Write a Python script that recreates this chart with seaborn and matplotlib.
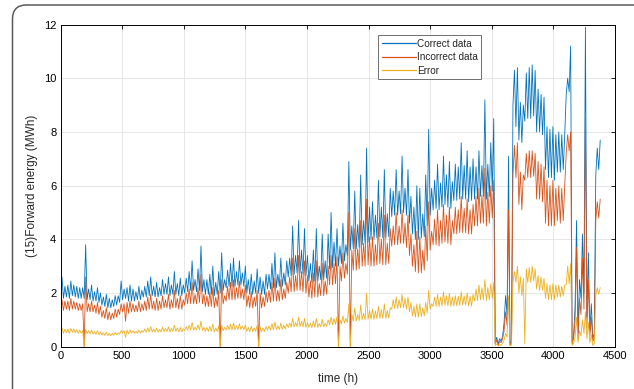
import numpy as np
import pandas as pd
import matplotlib
matplotlib.use("Agg")
import matplotlib.pyplot as plt
from matplotlib.patches import FancyBboxPatch
import seaborn as sns

# Each day: a night trough reading (at 24*d h) and a daytime peak reading (at 24*d+12 h)
day_start_hours = np.arange(0, 4369, 24)
peak_offset_hours = 12

correct_high = [
    2.6, 2.25, 2.3, 2.45, 2.3, 2.25, 2.2,
    2.2, 3.8, 2.15, 2.3, 2.05, 2.2, 2.0,
    1.85, 1.95, 1.8, 1.75, 1.9, 1.9, 2.45,
    2.15, 2.2, 2.3, 2.15, 2.05, 2.25, 2.1,
    2.25, 2.45, 2.6, 2.25, 2.4, 2.2, 2.5,
    2.35, 2.6, 2.3, 2.8, 2.35, 2.55, 2.3,
    2.55, 2.8, 3.2, 2.5, 2.9, 3.75, 2.5,
    2.5, 2.7, 3.0, 2.4, 2.8, 3.5, 2.5,
    2.85, 3.1, 3.3, 2.8, 3.2, 2.75, 3.0,
    2.5, 2.7, 2.45, 2.9, 2.6, 2.45, 2.7,
    2.7, 3.1, 3.5, 2.7, 3.3, 2.75, 3.2,
    3.3, 4.5, 3.4, 4.7, 3.6, 4.4, 3.4,
    3.1, 3.6, 4.4, 3.0, 4.2, 3.2, 4.2,
    5.0, 3.9, 4.4, 3.75, 4.6, 3.8, 6.9,
    4.5, 5.8, 4.55, 6.4, 4.7, 7.4, 5.2,
    5.4, 4.9, 6.2, 5.2, 6.6, 4.95, 5.9,
    5.8, 6.6, 5.8, 7.1, 5.9, 6.6, 5.6,
    5.2, 6.0, 5.9, 4.95, 6.4, 8.1, 5.9,
    6.2, 6.8, 6.1, 7.1, 6.4, 6.9, 6.15,
    6.8, 6.7, 7.6, 6.75, 7.3, 6.7, 7.0,
    6.7, 7.3, 6.75, 9.2, 6.8, 7.6, 8.5,
    0.35, 0.3, 0.4, 1.9, 7.1, 0.25, 10.3,
    10.4, 9.1, 9.0, 10.2, 10.4, 10.5, 10.3,
    9.6, 9.4, 9.3, 8.2, 8.1, 8.2, 7.9,
    8.0, 7.9, 7.9, 10.0, 11.2,
    0.4, 4.7, 2.5, 4.2, 11.9, 3.5, 1.6, 0.5, 7.4, 7.7,
]
correct_low = [
    1.85, 1.8, 1.85, 1.8, 1.9, 1.85, 1.8,
    1.8, 1.8, 1.75, 1.75, 1.7, 1.7, 1.65,
    1.55, 1.5, 1.45, 1.45, 1.5, 1.55, 1.65,
    1.75, 1.8, 1.7, 1.7, 1.7, 1.75, 1.75,
    1.85, 1.85, 1.9, 1.9, 1.85, 1.85, 1.9,
    1.95, 1.95, 1.9, 1.95, 1.95, 1.9, 1.9,
    2.0, 2.05, 2.1, 2.1, 2.05, 2.1, 2.05,
    1.95, 1.95, 1.95, 1.9, 1.95, 2.0, 2.1,
    2.2, 2.25, 2.25, 2.25, 2.3, 2.3, 2.25,
    2.0, 1.95, 1.95, 2.0, 2.0, 1.95, 1.95,
    2.15, 2.15, 2.2, 2.2, 2.25, 2.25, 2.3,
    2.6, 2.65, 2.7, 2.75, 2.75, 2.7, 2.65,
    2.45, 2.4, 2.45, 2.45, 2.5, 2.5, 2.55,
    2.9, 2.95, 3.0, 3.0, 3.1, 3.2, 3.4,
    3.6, 3.65, 3.65, 3.7, 3.8, 3.85, 3.9,
    4.0, 4.0, 4.05, 4.1, 4.05, 4.05, 4.1,
    4.85, 4.9, 4.9, 4.95, 5.0, 4.9, 4.6,
    4.2, 4.0, 4.0, 4.05, 4.1, 4.5, 4.9,
    5.1, 5.15, 5.1, 5.2, 5.3, 5.2, 5.15,
    5.45, 5.45, 5.5, 5.5, 5.5, 5.4, 5.45,
    5.5, 5.5, 5.6, 5.6, 5.5, 5.6, 5.8,
    0.15, 0.1, 0.2, 0.9, 1.2, 0.1, 9.0,
    8.2, 7.7, 7.6, 8.4, 8.5, 8.5, 8.6,
    8.0, 8.0, 7.9, 6.6, 6.3, 6.3, 6.2,
    6.5, 6.5, 6.6, 9.4, 9.5,
    0.2, 1.5, 0.5, 1.8, 2.0, 1.1, 0.6, 0.3, 6.4, 6.6,
]

incorrect_high = [
    1.75, 1.7, 1.7, 1.8, 1.7, 1.65, 1.6,
    1.6, 2.6, 1.6, 1.7, 1.55, 1.65, 1.5,
    1.35, 1.45, 1.3, 1.25, 1.4, 1.4, 1.6,
    1.6, 1.65, 1.7, 1.6, 1.55, 1.7, 1.6,
    1.7, 1.85, 1.95, 1.7, 1.8, 1.7, 1.9,
    1.75, 1.95, 1.75, 2.1, 1.8, 1.9, 1.75,
    2.0, 2.15, 2.4, 1.95, 2.2, 2.7, 1.95,
    1.9, 2.05, 2.2, 1.85, 2.1, 2.5, 1.9,
    2.25, 2.4, 2.5, 2.2, 2.45, 2.15, 2.3,
    1.9, 2.05, 1.85, 2.1, 2.0, 1.85, 2.05,
    2.1, 2.4, 2.55, 2.1, 2.5, 2.15, 2.4,
    2.6, 3.3, 2.65, 3.4, 2.8, 3.2, 2.65,
    2.45, 2.75, 3.2, 2.35, 3.1, 2.45, 3.0,
    3.4, 3.1, 3.35, 3.0, 3.5, 3.1, 5.0,
    3.6, 4.4, 3.65, 4.7, 3.85, 5.5, 4.1,
    4.1, 3.8, 4.6, 4.0, 4.9, 3.85, 4.4,
    4.5, 5.0, 4.5, 5.1, 4.6, 4.9, 4.2,
    3.8, 4.3, 4.1, 3.6, 4.5, 5.4, 4.3,
    4.75, 5.1, 4.7, 5.3, 4.9, 5.2, 4.7,
    5.2, 5.1, 5.6, 5.15, 5.5, 5.1, 5.3,
    5.6, 5.9, 5.65, 6.65, 5.75, 6.0, 6.2,
    0.25, 0.2, 0.3, 1.3, 5.1, 0.15, 7.5,
    7.6, 6.5, 6.4, 7.2, 7.3, 7.3, 7.2,
    6.9, 6.8, 6.7, 6.2, 6.0, 6.2, 5.9,
    6.0, 5.9, 6.0, 7.9, 8.0,
    0.3, 3.7, 1.8, 3.3, 8.7, 2.5, 1.1, 0.35, 5.4, 5.5,
]
incorrect_low = [
    1.4, 1.35, 1.4, 1.35, 1.4, 1.4, 1.35,
    1.35, 0.0, 1.3, 1.3, 1.3, 1.25, 1.2,
    1.1, 1.05, 1.0, 1.0, 1.05, 1.1, 1.2,
    1.3, 0.95, 1.25, 1.3, 1.3, 1.3, 1.3,
    1.35, 1.35, 1.4, 1.4, 1.35, 1.35, 1.4,
    1.45, 1.45, 1.4, 1.45, 1.45, 1.4, 1.4,
    1.55, 1.6, 1.6, 1.6, 1.6, 1.65, 1.6,
    1.5, 1.5, 1.5, 1.45, 1.5, 0.0, 1.6,
    1.7, 1.75, 1.75, 1.75, 1.8, 1.8, 1.75,
    1.5, 1.45, 1.45, 1.5, 0.0, 1.45, 1.5,
    1.65, 1.65, 1.7, 1.7, 1.7, 1.75, 1.8,
    2.0, 2.05, 2.05, 2.1, 2.1, 2.05, 2.0,
    1.85, 1.8, 1.85, 1.85, 1.9, 1.9, 1.95,
    2.3, 2.3, 2.35, 0.0, 2.45, 2.55, 2.7,
    0.0, 2.85, 2.85, 2.9, 3.0, 3.0, 3.05,
    3.0, 3.0, 3.05, 3.1, 3.05, 3.05, 3.1,
    3.75, 3.8, 3.8, 3.85, 3.85, 3.7, 3.4,
    3.0, 2.8, 2.75, 2.75, 2.85, 3.2, 3.6,
    3.8, 3.8, 3.75, 3.85, 3.9, 3.85, 3.8,
    4.2, 4.2, 4.25, 4.25, 4.25, 4.2, 4.2,
    4.5, 4.5, 4.6, 4.6, 4.5, 4.6, 4.8,
    0.1, 0.05, 0.15, 0.6, 0.8, 0.05, 6.4,
    6.3, 5.3, 5.1, 6.2, 6.3, 6.3, 6.35,
    5.5, 5.5, 5.4, 4.6, 4.5, 4.5, 4.5,
    4.7, 4.6, 4.7, 7.2, 7.3,
    0.1, 1.0, 0.3, 1.2, 1.4, 0.7, 0.4, 0.2, 4.7, 4.8,
]

error_high = [
    0.7, 0.65, 0.66, 0.68, 0.66, 0.64, 0.62,
    0.6, 0.65, 0.6, 0.62, 0.57, 0.6, 0.55,
    0.52, 0.54, 0.5, 0.5, 0.53, 0.52, 0.6,
    0.6, 0.62, 0.63, 0.6, 0.58, 0.62, 0.6,
    0.66, 0.7, 0.75, 0.66, 0.7, 0.65, 0.72,
    0.68, 0.74, 0.68, 0.8, 0.7, 0.72, 0.67,
    0.75, 0.8, 0.9, 0.73, 0.82, 0.95, 0.72,
    0.72, 0.76, 0.85, 0.7, 0.78, 0.8, 0.72,
    0.8, 0.84, 0.88, 0.78, 0.86, 0.77, 0.8,
    0.72, 0.76, 0.7, 0.8, 0.74, 0.7, 0.75,
    0.78, 0.86, 0.92, 0.78, 0.88, 0.8, 0.85,
    0.88, 1.05, 0.9, 1.1, 0.95, 1.05, 0.9,
    0.88, 0.95, 1.05, 0.86, 1.02, 0.87, 1.0,
    1.1, 1.05, 1.12, 1.0, 1.15, 1.05, 1.6,
    1.2, 1.45, 1.2, 1.55, 1.25, 2.0, 1.35,
    1.4, 1.33, 1.5, 1.38, 1.6, 1.35, 1.45,
    1.75, 1.85, 1.75, 1.95, 1.8, 1.85, 1.65,
    1.5, 1.6, 1.6, 1.45, 1.65, 2.1, 1.6,
    1.85, 1.95, 1.85, 2.05, 1.9, 1.98, 1.85,
    1.9, 1.88, 2.05, 1.9, 2.0, 1.88, 1.95,
    2.15, 2.3, 2.2, 2.5, 2.2, 2.35, 2.4,
    0.1, 0.08, 0.12, 0.5, 1.9, 0.06, 2.8,
    3.0, 2.6, 2.55, 2.9, 2.95, 3.0, 2.9,
    2.65, 2.6, 2.55, 2.35, 2.3, 2.35, 2.3,
    2.3, 2.25, 2.3, 3.0, 3.1,
    0.12, 1.1, 0.6, 1.0, 1.3, 0.9, 0.45, 0.12, 2.2, 2.2,
]
error_low = [
    0.52, 0.5, 0.52, 0.5, 0.53, 0.52, 0.5,
    0.5, 0.0, 0.48, 0.48, 0.47, 0.46, 0.45,
    0.43, 0.42, 0.41, 0.41, 0.42, 0.44, 0.47,
    0.5, 0.35, 0.48, 0.5, 0.5, 0.5, 0.5,
    0.54, 0.54, 0.55, 0.55, 0.54, 0.54, 0.55,
    0.56, 0.56, 0.55, 0.56, 0.57, 0.55, 0.55,
    0.6, 0.62, 0.62, 0.62, 0.62, 0.63, 0.6,
    0.57, 0.57, 0.57, 0.55, 0.57, 0.0, 0.6,
    0.62, 0.63, 0.63, 0.63, 0.64, 0.64, 0.63,
    0.57, 0.56, 0.56, 0.57, 0.0, 0.56, 0.57,
    0.62, 0.62, 0.63, 0.63, 0.64, 0.65, 0.66,
    0.72, 0.73, 0.74, 0.75, 0.75, 0.74, 0.72,
    0.72, 0.71, 0.72, 0.72, 0.74, 0.74, 0.76,
    0.82, 0.82, 0.84, 0.0, 0.86, 0.88, 0.9,
    0.0, 0.95, 0.95, 0.97, 1.0, 1.0, 1.02,
    1.02, 1.02, 1.04, 1.06, 1.05, 1.05, 1.07,
    1.4, 1.42, 1.42, 1.45, 1.45, 1.4, 1.3,
    1.15, 1.1, 1.1, 1.12, 1.15, 1.25, 1.4,
    1.5, 1.5, 1.5, 1.52, 1.55, 1.52, 1.5,
    1.52, 1.52, 1.54, 1.55, 1.55, 1.52, 1.52,
    1.7, 1.72, 1.75, 1.75, 1.72, 1.75, 1.8,
    0.04, 0.03, 0.05, 0.25, 0.35, 0.03, 2.4,
    2.4, 2.0, 1.9, 0.1, 2.4, 2.4, 2.45,
    2.15, 2.1, 2.1, 1.8, 1.75, 1.75, 1.75,
    1.85, 1.85, 1.9, 2.3, 2.35,
    0.05, 0.35, 0.15, 0.4, 0.5, 0.3, 0.15, 0.05, 1.9, 1.95,
]

series_names = ["Correct data", "Incorrect data", "Error"]
series_colors = ["#0072BD", "#D95319", "#EDB120"]
x_ticks = [0, 500, 1000, 1500, 2000, 2500, 3000, 3500, 4000, 4500]
y_ticks = [0, 2, 4, 6, 8, 10, 12]

frames = []
for name, lows, highs in zip(series_names,
                             [correct_low, incorrect_low, error_low],
                             [correct_high, incorrect_high, error_high]):
    frames.append(pd.DataFrame({"time": day_start_hours, "value": lows, "series": name}))
    frames.append(pd.DataFrame({"time": day_start_hours + peak_offset_hours,
                                "value": highs, "series": name}))
df = pd.concat(frames, ignore_index=True).sort_values(["series", "time"])

sns.set_style("white")
plt.rcParams["font.family"] = ["Liberation Sans", "DejaVu Sans"]

fig = plt.figure(figsize=(6.34, 3.89), dpi=100)
ax = fig.add_axes([60.5 / 634, 1 - 346.7 / 389, (615 - 60.5) / 634, (346.7 - 24.6) / 389])

sns.lineplot(data=df, x="time", y="value", hue="series", hue_order=series_names,
             palette=series_colors, linewidth=0.6, estimator=None,
             legend=False, ax=ax)

ax.set_xlim(0, 4500)
ax.set_ylim(0, 12)
ax.set_xticks(x_ticks)
ax.set_yticks(y_ticks)
ax.grid(True, color="#e3e3e3", linewidth=0.6)
ax.set_axisbelow(True)
for s in ax.spines.values():
    s.set_visible(True)
    s.set_color("black")
    s.set_linewidth(0.7)
ax.tick_params(direction="in", top=True, right=True, length=3, width=0.6,
               labelsize=8, colors="black", pad=3)
ax.set_xlabel("time (h)", fontsize=8.5, labelpad=9)
ax.set_ylabel("(15)Forward energy (MWh)", fontsize=8.5, labelpad=4)

handles = [plt.Line2D([], [], color=c, linewidth=0.9) for c in series_colors]
leg = ax.legend(handles, series_names, loc="upper left",
                bbox_to_anchor=((378 - 60.5) / 554.5, (346.7 - 35) / 322.1),
                fontsize=7.2, frameon=True, fancybox=False, framealpha=1,
                edgecolor="#6e6e6e", handlelength=3.4, handletextpad=0.15,
                labelspacing=0.35, borderpad=0.35, borderaxespad=0)
leg.get_frame().set_linewidth(0.7)

frame = FancyBboxPatch((0.125, -0.6), 7.0, 3.84 + 0.6,
                       boxstyle="round,pad=0,rounding_size=0.14",
                       transform=fig.dpi_scale_trans, fill=False,
                       edgecolor="#5a5a5a", linewidth=1.1)
fig.add_artist(frame)

fig.savefig("out.png", dpi=100)
